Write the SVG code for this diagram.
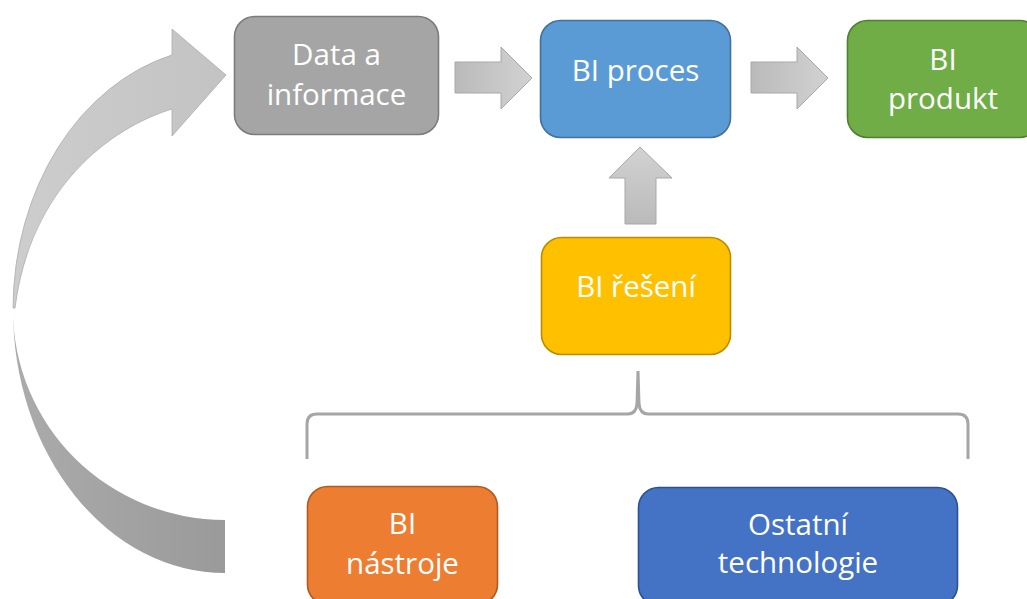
<svg xmlns="http://www.w3.org/2000/svg" width="1027" height="599" viewBox="0 0 1027 599">
  <defs>
    <style>
      .box { stroke-width: 1.6; }
      .lbl { font-family: "Open Sans", "Noto Sans", "DejaVu Sans", sans-serif; font-size: 29.5px; fill: #ffffff; text-anchor: middle; }
      .blk { stroke: #a8a8a8; stroke-width: 1; }
      .brace { fill: none; stroke: #a6a6a6; stroke-width: 3; stroke-linecap: butt; stroke-linejoin: round; }
    </style>
    <linearGradient id="gRight" x1="0" y1="0" x2="1" y2="0">
      <stop offset="0" stop-color="#bababa"/>
      <stop offset="1" stop-color="#d2d2d2"/>
    </linearGradient>
    <linearGradient id="gUp" x1="0" y1="1" x2="0" y2="0">
      <stop offset="0" stop-color="#bababa"/>
      <stop offset="1" stop-color="#d2d2d2"/>
    </linearGradient>
    <linearGradient id="gFront" gradientUnits="userSpaceOnUse" x1="13" y1="0" x2="226" y2="0">
      <stop offset="0" stop-color="#cdcdcd"/>
      <stop offset="1" stop-color="#c3c3c3"/>
    </linearGradient>
    <linearGradient id="gBack" gradientUnits="userSpaceOnUse" x1="13" y1="0" x2="226" y2="0">
      <stop offset="0" stop-color="#ababab"/>
      <stop offset="1" stop-color="#9a9a9a"/>
    </linearGradient>
  </defs>

  <g id="connectors">
    <!-- curved return arrow: back (lower) band, then front (upper) band with head -->
    <g id="return-arrow">
      <path d="M225,573 A212,263 0 0 1 13,310 A212,210 0 0 0 225,520 Z" fill="url(#gBack)"/>
      <path d="M172,55 L172,29 L226,75 L172,136 L172,109 C110,128 30,188 15,308 L13,308 A212,263 0 0 1 172,55 Z" fill="url(#gFront)" stroke="#ababab" stroke-width="0.8"/>
    </g>
    <!-- block arrows -->
    <path id="arrow-data-proces" class="blk" fill="url(#gRight)" d="M455,62 L501,62 L501,47 L532,78 L501,109 L501,93 L455,93 Z"/>
    <path id="arrow-proces-produkt" class="blk" fill="url(#gRight)" d="M751,62 L797,62 L797,47 L828,78 L797,109 L797,93 L751,93 Z"/>
    <path id="arrow-reseni-proces" class="blk" fill="url(#gUp)" d="M625,224 L625,178 L609,178 L640,147 L672,178 L656,178 L656,224 Z"/>
    <!-- brace grouping the two tool nodes -->
    <path id="brace" class="brace" d="M307,459 L307,424 Q307,414 317,414 L628,414 Q636,414 637,404 L638,371 M638,371 L639,404 Q640,414 648,414 L958,414 Q968,414 968,424 L968,459"/>
  </g>

  <g id="node-data">
    <rect class="box" x="234.5" y="16.5" width="204" height="118" rx="20" fill="#a5a5a5" stroke="#7c7c7c"/>
    <text class="lbl" x="336.5" y="65">Data a</text>
    <text class="lbl" x="336.5" y="105">informace</text>
  </g>

  <g id="node-proces">
    <rect class="box" x="540.5" y="20.5" width="190" height="117" rx="20" fill="#5b9bd5" stroke="#41719c"/>
    <text class="lbl" x="635.5" y="81">BI proces</text>
  </g>

  <g id="node-produkt">
    <rect class="box" x="847.5" y="20.5" width="192" height="117" rx="20" fill="#70ad47" stroke="#507e32"/>
    <text class="lbl" x="943" y="70">BI</text>
    <text class="lbl" x="943" y="109">produkt</text>
  </g>

  <g id="node-reseni">
    <rect class="box" x="541.5" y="237.5" width="189" height="117" rx="20" fill="#ffc000" stroke="#bc8c00"/>
    <text class="lbl" x="636" y="297">BI řešení</text>
  </g>

  <g id="node-nastroje">
    <rect class="box" x="307.5" y="486.5" width="190" height="118" rx="20" fill="#ed7d31" stroke="#ae5a21"/>
    <text class="lbl" x="402.5" y="534">BI</text>
    <text class="lbl" x="402.5" y="574">nástroje</text>
  </g>

  <g id="node-ostatni">
    <rect class="box" x="638.5" y="487.5" width="319" height="118" rx="20" fill="#4472c4" stroke="#2f528f"/>
    <text class="lbl" x="798" y="535">Ostatní</text>
    <text class="lbl" x="798" y="573">technologie</text>
  </g>
</svg>
